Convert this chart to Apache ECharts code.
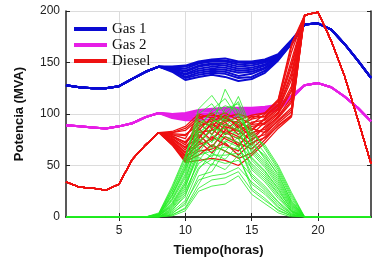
<!DOCTYPE html>
<html>
<head>
<meta charset="utf-8">
<script src="https://cdn.jsdelivr.net/npm/echarts@6/dist/echarts.min.js"></script>
<style>
  html, body { margin: 0; padding: 0; background: #fff; }
  #chart { width: 380px; height: 262px; }
</style>
</head>
<body>
<div id="chart"></div>
<script>
var myChart = echarts.init(document.getElementById('chart'));

// horas 1..24
var hours = [1,2,3,4,5,6,7,8,9,10,11,12,13,14,15,16,17,18,19,20,21,22,23,24];
var xTicks = [5, 10, 15, 20];

// Gas 1: horas 1-8 comun, 9-18 escenarios, 19-24 comun
var gas1Head = [128,126,125,125,127,134,141,146];
var gas1Mid = [
    [146,147,151,153,154,151,151,153,158,172],
    [145,146,150,152,152,150,150,152,157,171],
    [145,144,149,151,151,148,149,151,157,171],
    [144,142,147,149,149,146,147,150,156,170],
    [144,141,146,148,147,144,145,148,156,170],
    [143,139,144,146,145,142,143,147,155,170],
    [143,138,142,144,143,140,141,145,154,169],
    [142,136,140,142,141,137,139,144,154,169],
    [142,135,138,140,139,135,136,142,153,168],
    [141,133,136,138,136,132,134,140,152,168]
];
var gas1Tail = [187,188,182,168,152,135];

// Gas 2
var gas2Head = [89,88,87,86,88,91,97,101];
var gas2Mid = [
    [100,101,104,105,106,106,106,107,109,118],
    [100,100,103,104,105,105,105,106,108,117],
    [99,99,102,103,104,104,104,105,108,117],
    [99,98,100,101,102,102,103,104,107,116],
    [98,97,99,100,101,101,102,103,106,116],
    [98,96,97,98,99,100,101,102,106,115],
    [97,95,96,97,98,98,100,101,105,115],
    [96,94,94,95,96,97,99,101,104,115]
];
var gas2Tail = [128,130,126,117,106,93];

// Diesel
var dieselHead = [34,29,28,26,32,56,70,82];
var dieselMid = [
    [83,88,100,96,101,94,99,101,114,168],
    [82,86,97,99,97,100,96,101,113,165],
    [82,84,95,101,92,97,90,100,112,160],
    [81,80,89,93,98,88,95,98,110,152],
    [80,79,93,88,99,86,98,97,109,148],
    [80,76,99,86,94,92,85,96,108,145],
    [79,72,84,97,88,83,92,94,106,140],
    [78,73,87,95,85,94,84,95,105,137],
    [78,70,92,80,96,90,80,92,104,133],
    [77,67,78,90,82,76,88,90,102,127],
    [76,68,82,84,92,80,90,91,101,124],
    [76,65,86,74,90,84,74,88,100,122],
    [75,62,72,85,76,70,82,85,98,116],
    [74,63,76,92,80,88,78,87,97,113],
    [74,60,80,68,84,78,70,83,96,111],
    [73,58,66,78,70,64,76,80,94,106],
    [72,59,70,76,88,68,86,82,93,104],
    [72,56,74,62,78,72,66,78,91,102],
    [71,54,60,70,64,57,62,75,89,99],
    [70,55,64,66,72,60,72,77,88,98],
    [70,53,55,57,55,50,60,72,86,97]
];
var dieselTail = [196,199,171,137,95,52];

// generacion verde: horas 1-7 en cero, 8-18 escenarios, 19-24 en cero
var greenHead = [0,0,0,0,0,0,0];
var greenMid = [
    [4,30,60,95,88,124,100,80,70,50,24],
    [3,28,58,105,118,100,112,82,68,48,22],
    [3,27,55,100,110,92,117,85,66,46,20],
    [3,25,52,86,104,115,96,78,62,44,18],
    [2,24,50,90,100,108,104,72,58,42,15],
    [2,22,48,92,80,105,110,70,60,40,16],
    [2,21,47,82,92,95,85,68,54,36,13],
    [2,20,45,78,96,88,100,75,56,38,14],
    [2,18,42,84,72,98,90,66,52,34,12],
    [1,17,40,74,84,86,80,64,50,32,11],
    [1,16,38,70,88,80,94,62,48,30,10],
    [1,14,35,76,66,90,84,58,45,28,9],
    [1,13,33,68,74,78,72,57,44,27,7],
    [1,12,32,62,80,72,86,55,42,25,8],
    [1,11,30,60,64,68,66,52,40,23,6],
    [1,10,28,66,58,82,76,50,38,22,6],
    [0,9,26,52,60,60,62,48,36,20,5],
    [0,8,24,55,70,64,78,46,34,18,5],
    [0,7,20,58,50,74,68,42,30,15,4],
    [0,6,22,48,56,52,55,40,28,14,3],
    [0,5,16,46,62,56,70,38,26,12,3],
    [0,4,12,40,44,64,58,32,22,9,2],
    [0,3,14,36,40,42,48,34,24,10,2],
    [0,2,9,32,52,46,60,28,18,6,1],
    [0,2,8,28,36,38,44,26,16,7,1],
    [0,1,6,25,30,32,40,22,13,4,0]
];
var greenTail = [0,0,0,0,0,0];

function buildSeries(name, head, mids, tail, color, width) {
    return mids.map(function (mid) {
        var vals = head.concat(mid, tail);
        return {
            name: name,
            type: 'line',
            showSymbol: false,
            silent: true,
            animation: false,
            lineStyle: { color: color, width: width },
            itemStyle: { color: color },
            data: hours.map(function (h, i) { return [h, vals[i]]; })
        };
    });
}

var series = []
    .concat(buildSeries('Gas 1', gas1Head, gas1Mid, gas1Tail, '#0a0ad2', 2))
    .concat(buildSeries('Gas 2', gas2Head, gas2Mid, gas2Tail, '#e61ee6', 2))
    .concat(buildSeries('Diesel', dieselHead, dieselMid, dieselTail, '#ee1111', 1.3))
    .concat(buildSeries('Verde', greenHead, greenMid, greenTail, '#22ee22', 0.8));

var tickFont = { fontFamily: 'Liberation Sans', fontSize: 12, color: '#222' };

myChart.setOption({
    animation: false,
    grid: { left: 66, right: 9, top: 11, bottom: 45 },
    legend: {
        data: ['Gas 1', 'Gas 2', 'Diesel'],
        orient: 'vertical',
        left: 69,
        top: 16,
        icon: 'rect',
        itemWidth: 33,
        itemHeight: 4,
        itemGap: 0,
        textStyle: { fontFamily: 'Liberation Serif', fontSize: 15, color: '#111', lineHeight: 16 }
    },
    xAxis: [{
        type: 'value',
        min: 1,
        max: 24,
        name: 'Tiempo(horas)',
        nameLocation: 'middle',
        nameGap: 27,
        nameTextStyle: { fontFamily: 'Liberation Sans', fontSize: 13, fontWeight: 'bold', color: '#111' },
        axisLine: { lineStyle: { color: '#222', width: 1.5 } },
        axisTick: { inside: true, length: 4, lineStyle: { color: '#222' }, customValues: xTicks },
        axisLabel: Object.assign({ margin: 8, customValues: xTicks }, tickFont),
        splitLine: { show: true, lineStyle: { color: '#dcdcdc', width: 1 } }
    }, {
        type: 'value',
        position: 'top',
        min: 1,
        max: 24,
        axisLine: { show: true, lineStyle: { color: '#222', width: 1.5 } },
        axisTick: { inside: true, length: 4, lineStyle: { color: '#222' }, customValues: xTicks },
        axisLabel: { show: false },
        splitLine: { show: false }
    }],
    yAxis: [{
        type: 'value',
        min: 0,
        max: 200,
        interval: 50,
        name: 'Potencia (MVA)',
        nameLocation: 'middle',
        nameGap: 40,
        nameTextStyle: { fontFamily: 'Liberation Sans', fontSize: 13, fontWeight: 'bold', color: '#111' },
        axisLine: { show: true, lineStyle: { color: '#222', width: 1.5 } },
        axisTick: { show: true, inside: true, length: 4, lineStyle: { color: '#222' } },
        axisLabel: Object.assign({ margin: 6 }, tickFont),
        splitLine: { show: true, lineStyle: { color: '#dcdcdc', width: 1 } }
    }, {
        type: 'value',
        position: 'right',
        min: 0,
        max: 200,
        interval: 50,
        axisLine: { show: true, lineStyle: { color: '#222', width: 1.5 } },
        axisTick: { show: true, inside: true, length: 4, lineStyle: { color: '#222' } },
        axisLabel: { show: false },
        splitLine: { show: false }
    }],
    series: series
});
</script>
</body>
</html>
